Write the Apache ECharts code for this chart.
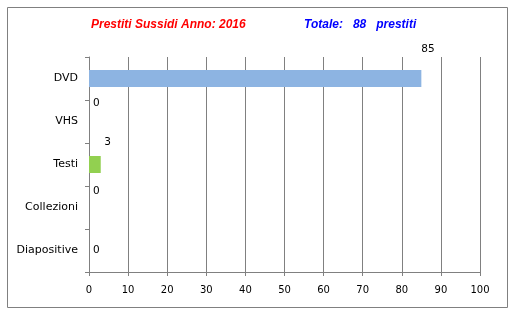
<!DOCTYPE html>
<html>
<head>
<meta charset="utf-8">
<script src="https://cdn.jsdelivr.net/npm/echarts@6/dist/echarts.min.js"></script>
<style>
html,body{margin:0;padding:0;background:#fff;}
#c{width:511px;height:310px;}
</style>
</head>
<body>
<div id="c"></div>
<script>
const categories = ['DVD', 'VHS', 'Testi', 'Collezioni', 'Diapositive'];
const values = [85, 0, 3, 0, 0];
const barColors = ['#8DB4E2', '#C0504D', '#92D050', '#8064A2', '#4BACC6'];
const xTicks = [0, 10, 20, 30, 40, 50, 60, 70, 80, 90, 100];
const titleText = 'Prestiti Sussidi Anno: 2016';
const totalText = 'Totale:   88   prestiti';

// label placement (layout only)
const labelOffsets = [[0, -29.5], [4, -18.5], [3.5, -22], [4, -16.5], [4, 0]];

const chart = echarts.init(document.getElementById('c'));
const gray = '#808080';
const font = 'DejaVu Sans';

chart.setOption({
  animation: false,
  title: [
    { text: titleText, left: 86, top: 14,
      textStyle: { color: '#FF0000', fontSize: 12, fontWeight: 'bold', fontStyle: 'italic', fontFamily: 'Liberation Sans' } },
    { text: totalText, left: 299, top: 14,
      textStyle: { color: '#0000FF', fontSize: 12, fontWeight: 'bold', fontStyle: 'italic', fontFamily: 'Liberation Sans' } }
  ],
  graphic: [{
    type: 'rect', left: 5, top: 5, silent: true,
    shape: { width: 500, height: 300 },
    style: { fill: 'none', stroke: gray, lineWidth: 1 }
  }],
  grid: { left: 89, top: 57, width: 391, height: 215, containLabel: false },
  xAxis: {
    type: 'value', min: xTicks[0], max: xTicks[xTicks.length - 1], interval: 10,
    axisLine: { show: true, lineStyle: { color: gray } },
    axisTick: { show: true, length: 4, lineStyle: { color: gray } },
    splitLine: { show: true, lineStyle: { color: gray, width: 1 } },
    axisLabel: { color: '#000', fontSize: 10, fontFamily: font, margin: 13 }
  },
  yAxis: {
    type: 'category', inverse: true, data: categories,
    axisLine: { show: true, lineStyle: { color: gray } },
    axisTick: { show: true, length: 4, lineStyle: { color: gray } },
    splitLine: { show: false },
    axisLabel: { color: '#000', fontSize: 11, fontFamily: font, margin: 11 }
  },
  series: [{
    type: 'bar',
    barWidth: 17,
    data: values.map((v, i) => ({
      value: v,
      itemStyle: { color: barColors[i] },
      label: { offset: labelOffsets[i] }
    })),
    label: {
      show: true, position: 'right', distance: 0,
      color: '#000', fontSize: 10.5, fontFamily: font
    }
  }]
});
</script>
</body>
</html>
